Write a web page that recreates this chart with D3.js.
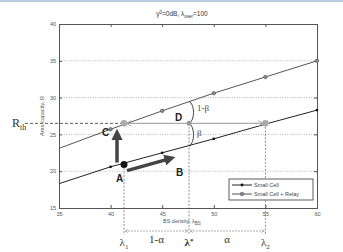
<!DOCTYPE html>
<html>
<head>
<meta charset="utf-8">
<script src="https://cdn.jsdelivr.net/npm/d3@7"></script>
<style>
body{margin:0;background:#fff;}
svg{display:block;font-family:"Liberation Sans",Arial,sans-serif;}
</style>
</head>
<body>
<svg width="343" height="252"></svg>
<script>
var xTicks = [35, 40, 45, 50, 55, 60];
var yTicks = [15, 20, 25, 30, 35, 40];
var yGrid = [20, 25, 30, 35];
var bsDensity = [35, 40, 45, 50, 55, 60];
var smallCell = [18.3, 20.6, 22.5, 24.4, 26.4, 28.3];
var smallCellRelay = [23.1, 25.7, 28.2, 30.6, 32.8, 35.0];
var seriesNames = ["Small Cell", "Small Cell + Relay"];

// annotation values
var rth = 26.5;
var lambda1 = 41.3, lambdaStar = 47.6, lambda2 = 55;
var pointA = 20.9;
var braceTop = 29.5, braceBottom = 23.4;

var width = 343, height = 252;
var x = d3.scaleLinear().domain([35, 60]).range([59, 317]);
var y = d3.scaleLinear().domain([15, 40]).range([208, 24]);

var svg = d3.select('svg');

svg.append('defs').html(
  '<marker id="ah" viewBox="0 0 10 10" refX="9" refY="5" markerWidth="5" markerHeight="5" orient="auto-start-reverse">' +
  '<path d="M1,1 L9,5 L1,9" fill="none" stroke="#999" stroke-width="1.5"/></marker>' +
  '<marker id="ahg" viewBox="0 0 10 10" refX="9" refY="5" markerWidth="6" markerHeight="6" orient="auto-start-reverse">' +
  '<path d="M1,1 L9,5 L1,9" fill="none" stroke="#aaa" stroke-width="1.5"/></marker>' +
  '<marker id="big" viewBox="0 0 10 10" refX="5" refY="5" markerWidth="3.2" markerHeight="3.2" orient="auto">' +
  '<path d="M0,0 L10,5 L0,10 z" fill="#444"/></marker>');

// top border strip
svg.append('rect').attr('x', 0).attr('y', 0).attr('width', width).attr('height', 2).attr('fill', '#b8cde0');

// title
var title = svg.append('text').attr('x', 182).attr('y', 16).attr('text-anchor', 'middle')
  .attr('font-size', 6.5).attr('fill', '#333');
title.append('tspan').text('γ');
title.append('tspan').attr('dy', -2.5).attr('font-size', 4.5).text('0');
title.append('tspan').attr('dy', 2.5).text('=0dB, λ');
title.append('tspan').attr('dy', 1.5).attr('font-size', 4.5).text('user');
title.append('tspan').attr('dy', -1.5).text('=100');

// grid
svg.append('g').selectAll('line').data(yGrid).enter().append('line')
  .attr('x1', x(35)).attr('x2', x(60))
  .attr('y1', function(d){return y(d)}).attr('y2', function(d){return y(d)})
  .attr('stroke', '#999').attr('stroke-width', 0.6).attr('stroke-dasharray', '1.2,1.2');

// axes
svg.append('g').attr('transform', 'translate(0,' + y(15) + ')')
  .call(d3.axisBottom(x).tickValues(xTicks).tickSize(-3).tickPadding(4))
  .call(styleAxis);
svg.append('g').attr('transform', 'translate(0,' + y(40) + ')')
  .call(d3.axisTop(x).tickValues(xTicks).tickSize(-3).tickFormat(''))
  .call(styleAxis);
svg.append('g').attr('transform', 'translate(' + x(35) + ',0)')
  .call(d3.axisLeft(y).tickValues(yTicks).tickSize(-3).tickPadding(3))
  .call(styleAxis);
svg.append('g').attr('transform', 'translate(' + x(60) + ',0)')
  .call(d3.axisRight(y).tickValues(yTicks).tickSize(-3).tickFormat(''))
  .call(styleAxis);

function styleAxis(g) {
  g.select('.domain').attr('stroke', '#555').attr('stroke-width', 1);
  g.selectAll('.tick line').attr('stroke', '#555');
  g.selectAll('text').attr('font-size', 5.5).attr('fill', '#555').attr('font-family', 'Liberation Sans, Arial');
}

// axis labels
svg.append('text').attr('transform', 'translate(44,116) rotate(-90)').attr('text-anchor', 'middle')
  .attr('font-size', 5.5).attr('fill', '#555').text('Area capacity, R');
var xl = svg.append('text').attr('x', 163).attr('y', 223).attr('font-size', 5.5).attr('fill', '#555');
xl.append('tspan').text('BS density, λ');
xl.append('tspan').attr('dy', 1.5).attr('font-size', 4.5).text('BS');

// series lines
var line = d3.line().x(function(d){return x(d[0])}).y(function(d){return y(d[1])});
var sc = d3.zip(bsDensity, smallCell);
var scr = d3.zip(bsDensity, smallCellRelay);

svg.append('path').datum(scr).attr('d', line).attr('fill', 'none').attr('stroke', '#555').attr('stroke-width', 1);
svg.append('path').datum(sc).attr('d', line).attr('fill', 'none').attr('stroke', '#222').attr('stroke-width', 1);

svg.append('g').selectAll('circle').data(scr.slice(1)).enter().append('circle')
  .attr('cx', function(d){return x(d[0])}).attr('cy', function(d){return y(d[1])})
  .attr('r', 1.8).attr('fill', '#888').attr('stroke', '#555').attr('stroke-width', 0.6);
svg.append('g').selectAll('circle').data(sc.slice(1)).enter().append('circle')
  .attr('cx', function(d){return x(d[0])}).attr('cy', function(d){return y(d[1])})
  .attr('r', 1.4).attr('fill', '#111');

// R_th line
svg.append('line').attr('x1', 25).attr('x2', x(lambda1)).attr('y1', y(rth)).attr('y2', y(rth))
  .attr('stroke', '#333').attr('stroke-width', 0.8).attr('stroke-dasharray', '3,2');
svg.append('line').attr('x1', x(lambda1) + 2).attr('x2', x(lambda2) - 2).attr('y1', y(rth)).attr('y2', y(rth))
  .attr('stroke', '#aaa').attr('stroke-width', 1.1)
  .attr('marker-start', 'url(#ahg)').attr('marker-end', 'url(#ahg)');
var rl = svg.append('text').attr('x', 12).attr('y', y(rth) + 4).attr('font-family', 'Liberation Serif, Times New Roman')
  .attr('font-size', 12).attr('fill', '#333');
rl.append('tspan').text('R');
rl.append('tspan').attr('dy', 3).attr('font-size', 8).text('th');

// vertical dashed drop lines
var drops = [[lambda1, pointA], [lambdaStar, rth], [lambda2, rth]];
svg.append('g').selectAll('line').data(drops).enter().append('line')
  .attr('x1', function(d){return x(d[0])}).attr('x2', function(d){return x(d[0])})
  .attr('y1', function(d){return y(d[1])}).attr('y2', 235)
  .attr('stroke', '#444').attr('stroke-width', 0.6).attr('stroke-dasharray', '2,1.5');

// bottom double arrows
svg.append('line').attr('x1', x(lambda1) + 1).attr('x2', x(lambdaStar) - 1).attr('y1', 231).attr('y2', 231)
  .attr('stroke', '#999').attr('stroke-width', 0.8).attr('stroke-dasharray', '2,1')
  .attr('marker-start', 'url(#ah)').attr('marker-end', 'url(#ah)');
svg.append('line').attr('x1', x(lambdaStar) + 1).attr('x2', x(lambda2) - 1).attr('y1', 231).attr('y2', 231)
  .attr('stroke', '#999').attr('stroke-width', 0.8).attr('stroke-dasharray', '2,1')
  .attr('marker-start', 'url(#ah)').attr('marker-end', 'url(#ah)');

// bottom labels
var serif = 'Liberation Serif, Times New Roman';
function lam(xv, sub, bold) {
  var t = svg.append('text').attr('x', x(xv)).attr('y', 246).attr('text-anchor', 'middle')
    .attr('font-family', serif).attr('font-size', 11).attr('fill', '#333');
  if (bold) t.attr('font-weight', 'bold');
  t.append('tspan').text('λ');
  t.append('tspan').attr('dy', sub === '*' ? -3 : 2.5).attr('font-size', 7).text(sub);
}
lam(lambda1, '1');
lam(lambdaStar, '*', true);
lam(lambda2, '2');
svg.append('text').attr('x', (x(lambda1) + x(lambdaStar)) / 2).attr('y', 243).attr('text-anchor', 'middle')
  .attr('font-family', serif).attr('font-size', 11).attr('fill', '#333').text('1-α');
svg.append('text').attr('x', (x(lambdaStar) + x(lambda2)) / 2).attr('y', 243).attr('text-anchor', 'middle')
  .attr('font-family', serif).attr('font-size', 11).attr('fill', '#333').text('α');

// braces
var bx = x(lambdaStar);
function brace(y1, y2) {
  var m = (y1 + y2) / 2;
  return 'M' + bx + ',' + y1 + ' C' + (bx + 6) + ',' + (y1 + 3) + ' ' + (bx + 6) + ',' + (y2 - 3) + ' ' + bx + ',' + y2;
}
svg.append('path').attr('d', brace(y(braceTop), y(rth))).attr('fill', 'none').attr('stroke', '#333').attr('stroke-width', 0.9);
svg.append('path').attr('d', brace(y(rth), y(braceBottom))).attr('fill', 'none').attr('stroke', '#333').attr('stroke-width', 0.9);
svg.append('text').attr('x', bx + 8).attr('y', y(braceTop) + 10).attr('font-family', serif).attr('font-size', 9).attr('fill', '#444').text('1-β');
svg.append('text').attr('x', bx + 8).attr('y', y(rth) + 13).attr('font-family', serif).attr('font-size', 9).attr('fill', '#444').text('β');

// key points
svg.append('circle').attr('cx', x(lambda1)).attr('cy', y(rth)).attr('r', 3.3).attr('fill', '#aaa');
svg.append('circle').attr('cx', x(lambda2)).attr('cy', y(rth)).attr('r', 3.3).attr('fill', '#aaa');
svg.append('circle').attr('cx', x(lambdaStar)).attr('cy', y(rth)).attr('r', 2.5).attr('fill', '#999');
svg.append('circle').attr('cx', x(lambda1)).attr('cy', y(pointA)).attr('r', 3.5).attr('fill', '#111');

// thick arrows (A -> C, A -> B)
var ax = x(lambda1), ay = y(pointA);
svg.append('line').attr('x1', ax - 7).attr('x2', ax - 7).attr('y1', ay - 2).attr('y2', y(rth) + 11)
  .attr('stroke', '#444').attr('stroke-width', 3.5).attr('marker-end', 'url(#big)');
svg.append('line').attr('x1', ax + 3).attr('y1', ay + 6).attr('x2', ax + 46).attr('y2', ay - 6)
  .attr('stroke', '#444').attr('stroke-width', 3.5).attr('marker-end', 'url(#big)');

// point labels
var pl = [['A', ax - 8, ay + 17], ['B', ax + 52, ay + 11], ['C', ax - 22, y(rth) + 13], ['D', bx - 14, y(rth) - 2]];
svg.append('g').selectAll('text').data(pl).enter().append('text')
  .attr('x', function(d){return d[1]}).attr('y', function(d){return d[2]})
  .attr('font-size', 10).attr('font-weight', 'bold').attr('fill', '#222').text(function(d){return d[0]});

// legend
var lg = svg.append('g').attr('transform', 'translate(229,179)');
lg.append('rect').attr('width', 84).attr('height', 21).attr('fill', '#fff').attr('stroke', '#333').attr('stroke-width', 0.8);
var items = lg.selectAll('.item').data(seriesNames).enter().append('g')
  .attr('transform', function(d, i){return 'translate(3,' + (6 + 9 * i) + ')'});
items.append('line').attr('x1', 0).attr('x2', 20).attr('stroke', function(d, i){return i ? '#555' : '#222'}).attr('stroke-width', 1);
items.append('circle').attr('cx', 10).attr('r', function(d, i){return i ? 1.8 : 1.4})
  .attr('fill', function(d, i){return i ? '#888' : '#111'}).attr('stroke', function(d, i){return i ? '#555' : 'none'}).attr('stroke-width', 0.6);
items.append('text').attr('x', 22).attr('y', 2).attr('font-size', 5.5).attr('fill', '#444').text(function(d){return d});
</script>
</body>
</html>
